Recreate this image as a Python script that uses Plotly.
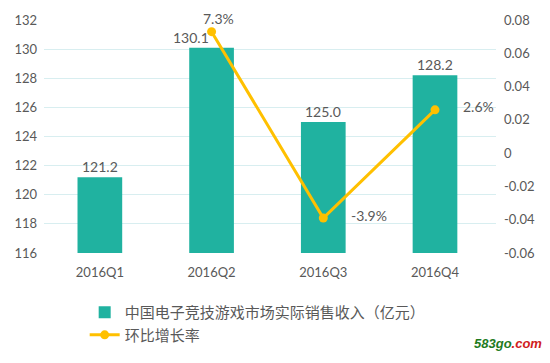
import plotly.graph_objects as go

categories = ["2016Q1", "2016Q2", "2016Q3", "2016Q4"]
revenue = [121.2, 130.1, 125.0, 128.2]
growth = [None, 0.073, -0.039, 0.026]
growth_labels = ["", "7.3%", "-3.9%", "2.6%"]
left_ticks = [116, 118, 120, 122, 124, 126, 128, 130, 132]
right_ticks = [-0.06, -0.04, -0.02, 0, 0.02, 0.04, 0.06, 0.08]
right_ticktext = ["-0.06", "-0.04", "-0.02", "0", "0.02", "0.04", "0.06", "0.08"]

bar_name = "中国电子竞技游戏市场实际销售收入（亿元）"
line_name = "环比增长率"

BAR = "#20B2A0"
LINE = "#FFC000"
TXT = "#595959"
GRID = "#D8EEF0"
FONT = "Lato, 'Noto Sans CJK SC', sans-serif"

fig = go.Figure()
fig.add_trace(go.Bar(x=categories, y=revenue, name=bar_name, marker_color=BAR,
                     marker_line_width=0, yaxis="y"))
fig.add_trace(go.Scatter(x=categories, y=growth, name=line_name, mode="lines+markers",
                         line=dict(color=LINE, width=3), marker=dict(color=LINE, size=9),
                         yaxis="y2", connectgaps=False))

ann = []
for i, c in enumerate(categories):
    if i == 1:
        ann.append(dict(x=c, y=revenue[i], xref="x", yref="y", text=f"{revenue[i]:.1f}",
                        showarrow=False, yanchor="bottom", xanchor="right", yshift=0, xshift=-1,
                        font=dict(size=14, color=TXT, family=FONT)))
    else:
        ann.append(dict(x=c, y=revenue[i], xref="x", yref="y", text=f"{revenue[i]:.1f}",
                        showarrow=False, yanchor="bottom", yshift=0,
                        font=dict(size=14, color=TXT, family=FONT)))
    if growth[i] is not None:
        if i == 1:
            ann.append(dict(x=c, y=growth[i], xref="x", yref="y2", text=growth_labels[i],
                            showarrow=False, xanchor="left", yanchor="bottom", xshift=-11, yshift=3,
                            font=dict(size=14, color=TXT, family=FONT)))
        else:
            ann.append(dict(x=c, y=growth[i], xref="x", yref="y2", text=growth_labels[i],
                            showarrow=False, xanchor="left", xshift=26, yshift=3,
                            font=dict(size=14, color=TXT, family=FONT)))

ann.append(dict(x=1, y=-0.387, xref="paper", yref="paper", xanchor="right", yanchor="middle",
                text="<b><i><span style='color:#1E7B1E'>583go</span><span style='color:#D02020'>.com</span></i></b>",
                showarrow=False, xshift=48, font=dict(size=13, family="Liberation Sans")))

fig.update_layout(
    width=550, height=363,
    margin=dict(l=44, r=54, t=17, b=108),
    paper_bgcolor="white", plot_bgcolor="white",
    bargap=0.6,
    font=dict(family=FONT, color=TXT, size=13),
    xaxis=dict(showgrid=False, showline=False, ticks="", ticklabelstandoff=10,
               tickfont=dict(size=13, color=TXT)),
    yaxis=dict(range=[116, 132], tickvals=left_ticks, showgrid=True, gridcolor=GRID,
               gridwidth=1, zeroline=False, showline=False, ticks="", ticklabelstandoff=6,
               tickfont=dict(size=13, color=TXT)),
    yaxis2=dict(range=[-0.06, 0.08], tickvals=right_ticks, ticktext=right_ticktext,
                overlaying="y", side="right", showgrid=False, zeroline=False, showline=False,
                ticks="", ticklabelstandoff=7, tickfont=dict(size=13, color=TXT)),
    legend=dict(orientation="v", x=0.09, y=-0.185, xanchor="left", yanchor="top",
                font=dict(size=15, color=TXT, family=FONT), tracegroupgap=2,
                bgcolor="rgba(0,0,0,0)"),
    annotations=ann,
    showlegend=True,
)

fig.write_html("out.html", config={"displayModeBar": False},
               post_script="document.body.style.margin='0';document.body.style.overflow='hidden';")
